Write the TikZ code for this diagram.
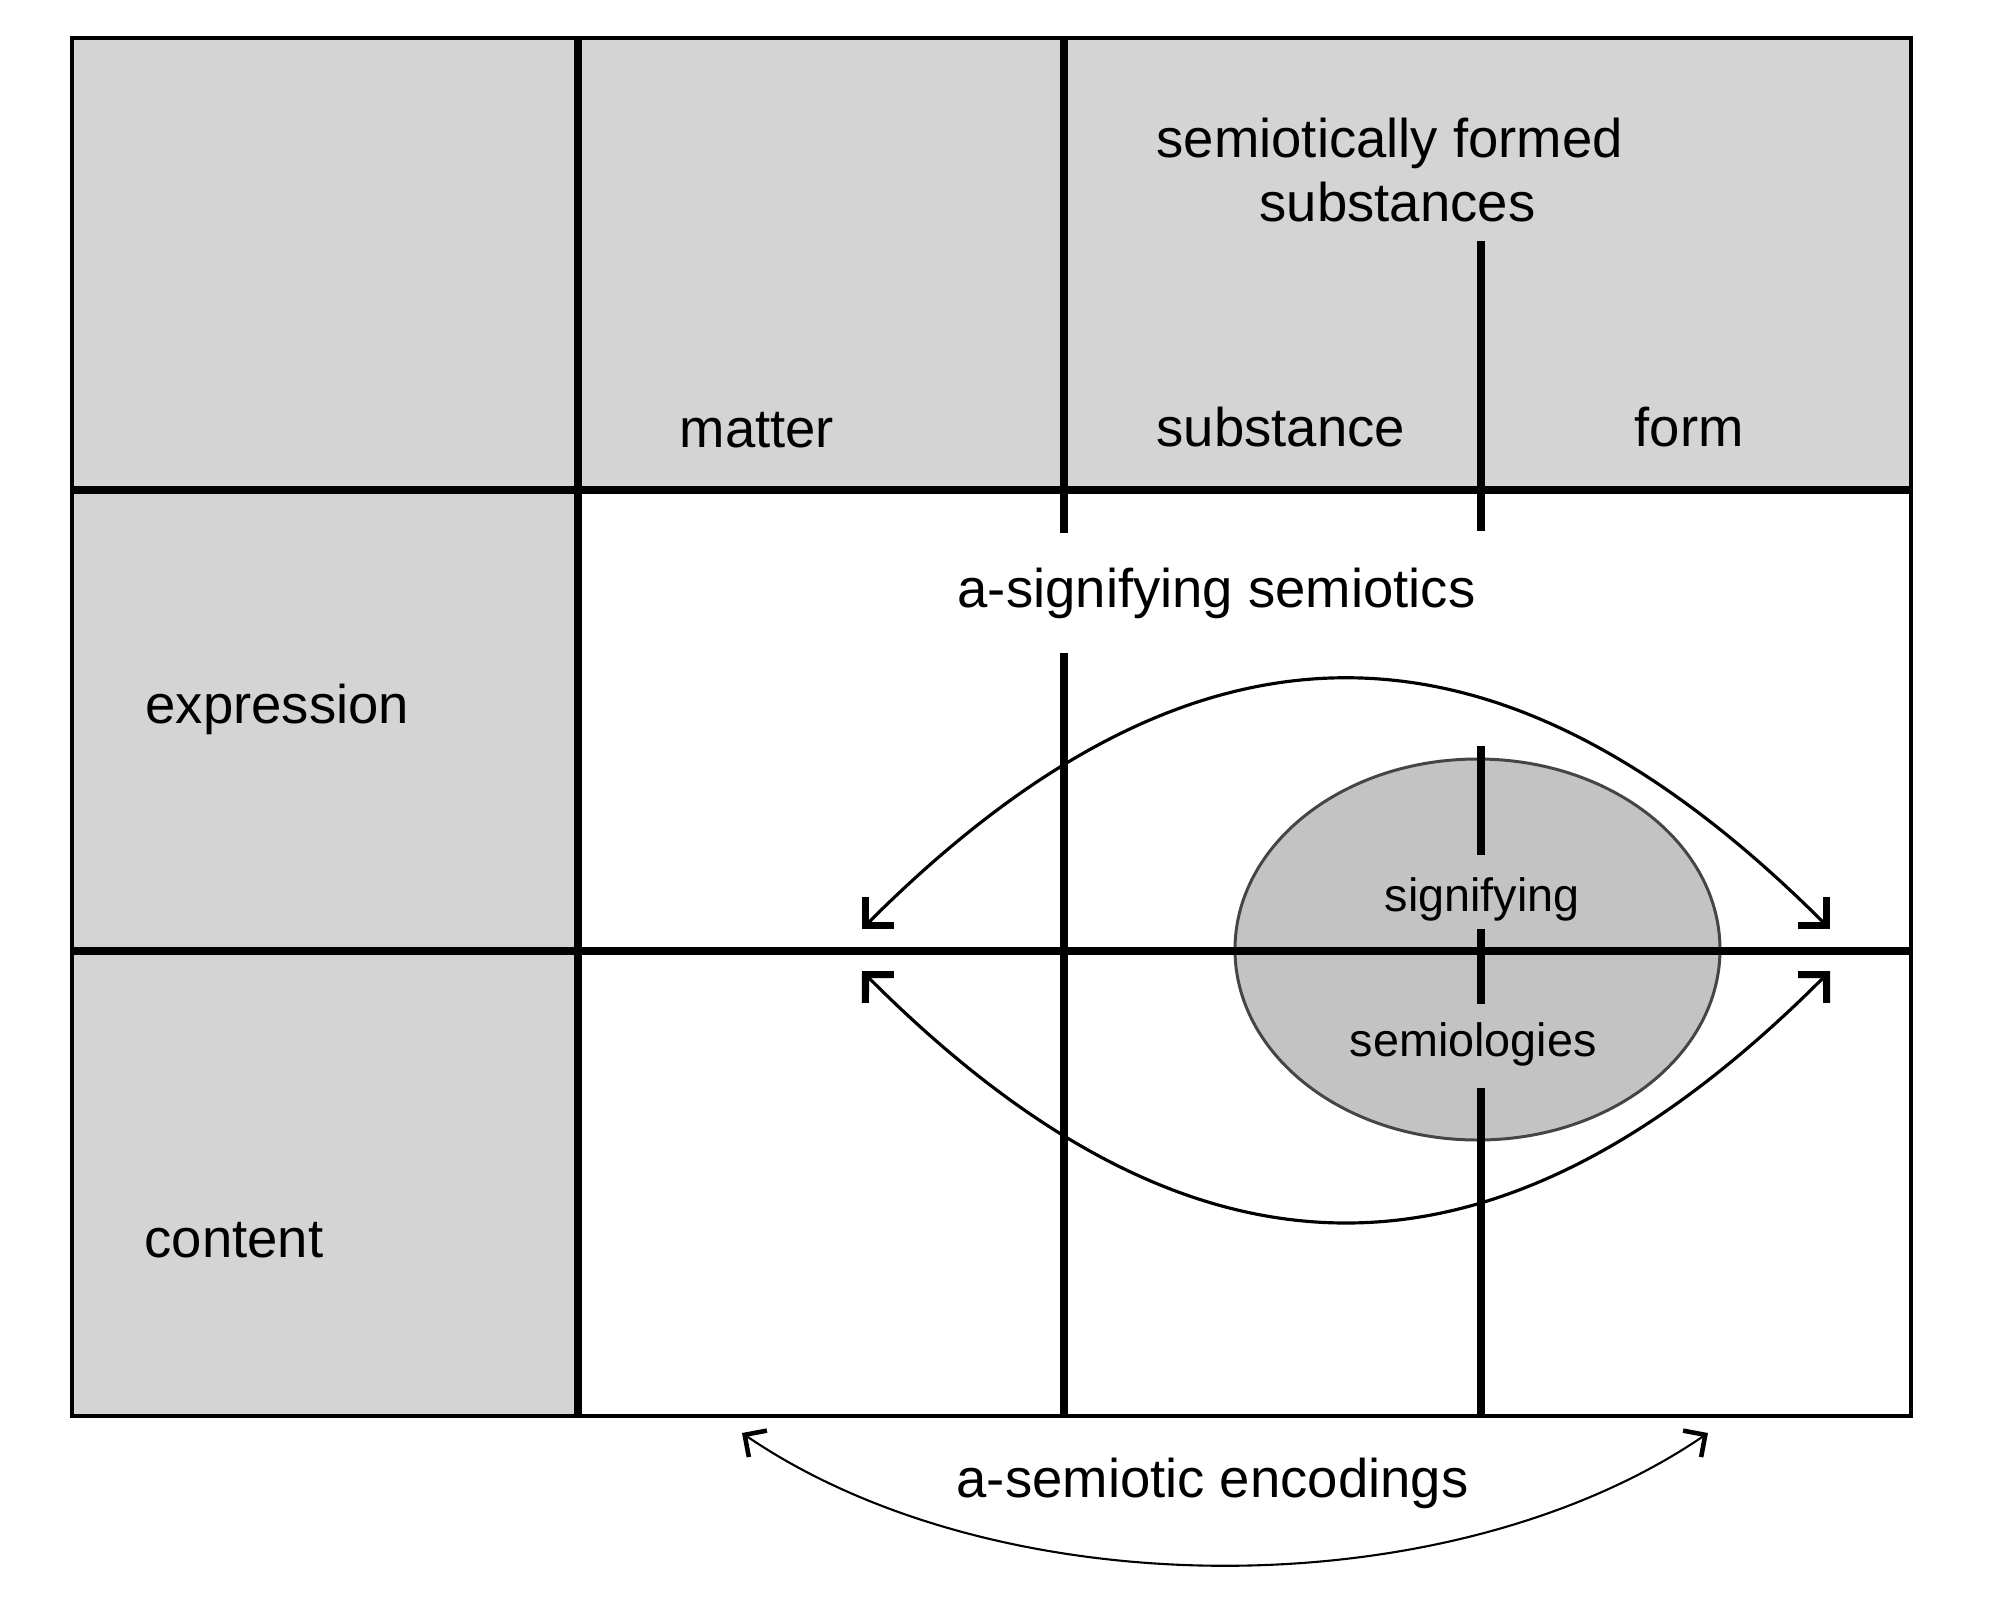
\documentclass[tikz,border=0pt]{standalone}
\usepackage{fontspec}
\setmainfont{Liberation Sans}
\usetikzlibrary{arrows.meta,shapes.geometric}
\definecolor{hdrgray}{HTML}{D4D4D4}
\definecolor{ellfill}{HTML}{C3C3C3}
\definecolor{elldraw}{HTML}{454545}
\begin{document}
\begin{tikzpicture}[x=0.1mm,y=-0.1mm,
  gridline/.style={line width=2.3pt},
  frameline/.style={line width=1.4pt},
  bigtext/.style={font=\fontsize{15.5}{18.2}\selectfont, inner sep=0pt, anchor=base west},
  smalltext/.style={font=\fontsize{13.3}{16}\selectfont, inner sep=0pt, anchor=base west},
  bigbarb/.tip={Straight Barb[length=2mm,width=4mm,line width=2pt]},
  smallbarb/.tip={Straight Barb[length=1.6mm,width=3.2mm,line width=1.3pt]},
  arcline/.style={line width=0.9pt, bigbarb-bigbarb},
  botarcline/.style={line width=0.6pt, smallbarb-smallbarb}
]
\useasboundingbox (0,0) rectangle (2000,1600);
% fills
\fill[hdrgray] (72,38) rectangle (1911,490);
\fill[hdrgray] (72,490) rectangle (578,1416);
% ellipse
\node[ellipse, draw=elldraw, fill=ellfill, line width=0.85pt, minimum width=48.5mm, minimum height=38.1mm, inner sep=0pt] (ell) at (1477.5,949.5) {};
% grid coordinates
\coordinate (TL) at (72,38);
\coordinate (BR) at (1911,1416);
\coordinate (h1L) at (72,490);   \coordinate (h1R) at (1911,490);
\coordinate (h2L) at (72,951);   \coordinate (h2R) at (1911,951);
\coordinate (c1T) at (578,38);   \coordinate (c1B) at (578,1416);
\coordinate (c2T) at (1064,38);  \coordinate (c2a) at (1064,533);
\coordinate (c2b) at (1064,653); \coordinate (c2B) at (1064,1416);
\coordinate (c3a) at (1481,241); \coordinate (c3b) at (1481,531);
\coordinate (c3c) at (1481,746); \coordinate (c3d) at (1481,855);
\coordinate (c3e) at (1481,929); \coordinate (c3f) at (1481,1004);
\coordinate (c3g) at (1481,1088); \coordinate (c3h) at (1481,1416);
% grid lines
\draw[frameline] (TL) rectangle (BR);
\draw[gridline] (h1L) -- (h1R);
\draw[gridline] (h2L) -- (h2R);
\draw[gridline] (c1T) -- (c1B);
\draw[gridline] (c2T) -- (c2a);
\draw[gridline] (c2b) -- (c2B);
\draw[gridline] (c3a) -- (c3b);
\draw[gridline] (c3c) -- (c3d);
\draw[gridline] (c3e) -- (c3f);
\draw[gridline] (c3g) -- (c3h);
% texts
\node[bigtext] (sf1) at (1156,157) {semiotically formed};
\node[bigtext] (sf2) at (1259,221) {substances};
\node[bigtext] (matter) at (679,447) {matter};
\node[bigtext] (substance) at (1156,446) {substance};
\node[bigtext] (form) at (1634,446) {form};
\node[bigtext] (expr) at (145,723) {expression};
\node[bigtext] (cont) at (144,1257) {content};
\node[bigtext] (asig) at (957,607) {a-signifying semiotics};
\node[bigtext] (asem) at (956,1497) {a-semiotic encodings};
\node[smalltext] (sig) at (1384,911) {signifying};
\node[smalltext] (semio) at (1349,1056) {semiologies};
% arcs
\coordinate (uL) at (862,929);  \coordinate (uR) at (1830,929);
\coordinate (lL) at (862,971);  \coordinate (lR) at (1830,971);
\coordinate (bL) at (742,1433); \coordinate (bR) at (1708,1433);
\draw[arcline] (uL) .. controls (1195,596) and (1497,596) .. (uR);
\draw[arcline] (lL) .. controls (1195,1305) and (1497,1305) .. (lR);
\draw[botarcline] (bL) .. controls (1000,1609) and (1450,1609) .. (bR);
\end{tikzpicture}
\end{document}
